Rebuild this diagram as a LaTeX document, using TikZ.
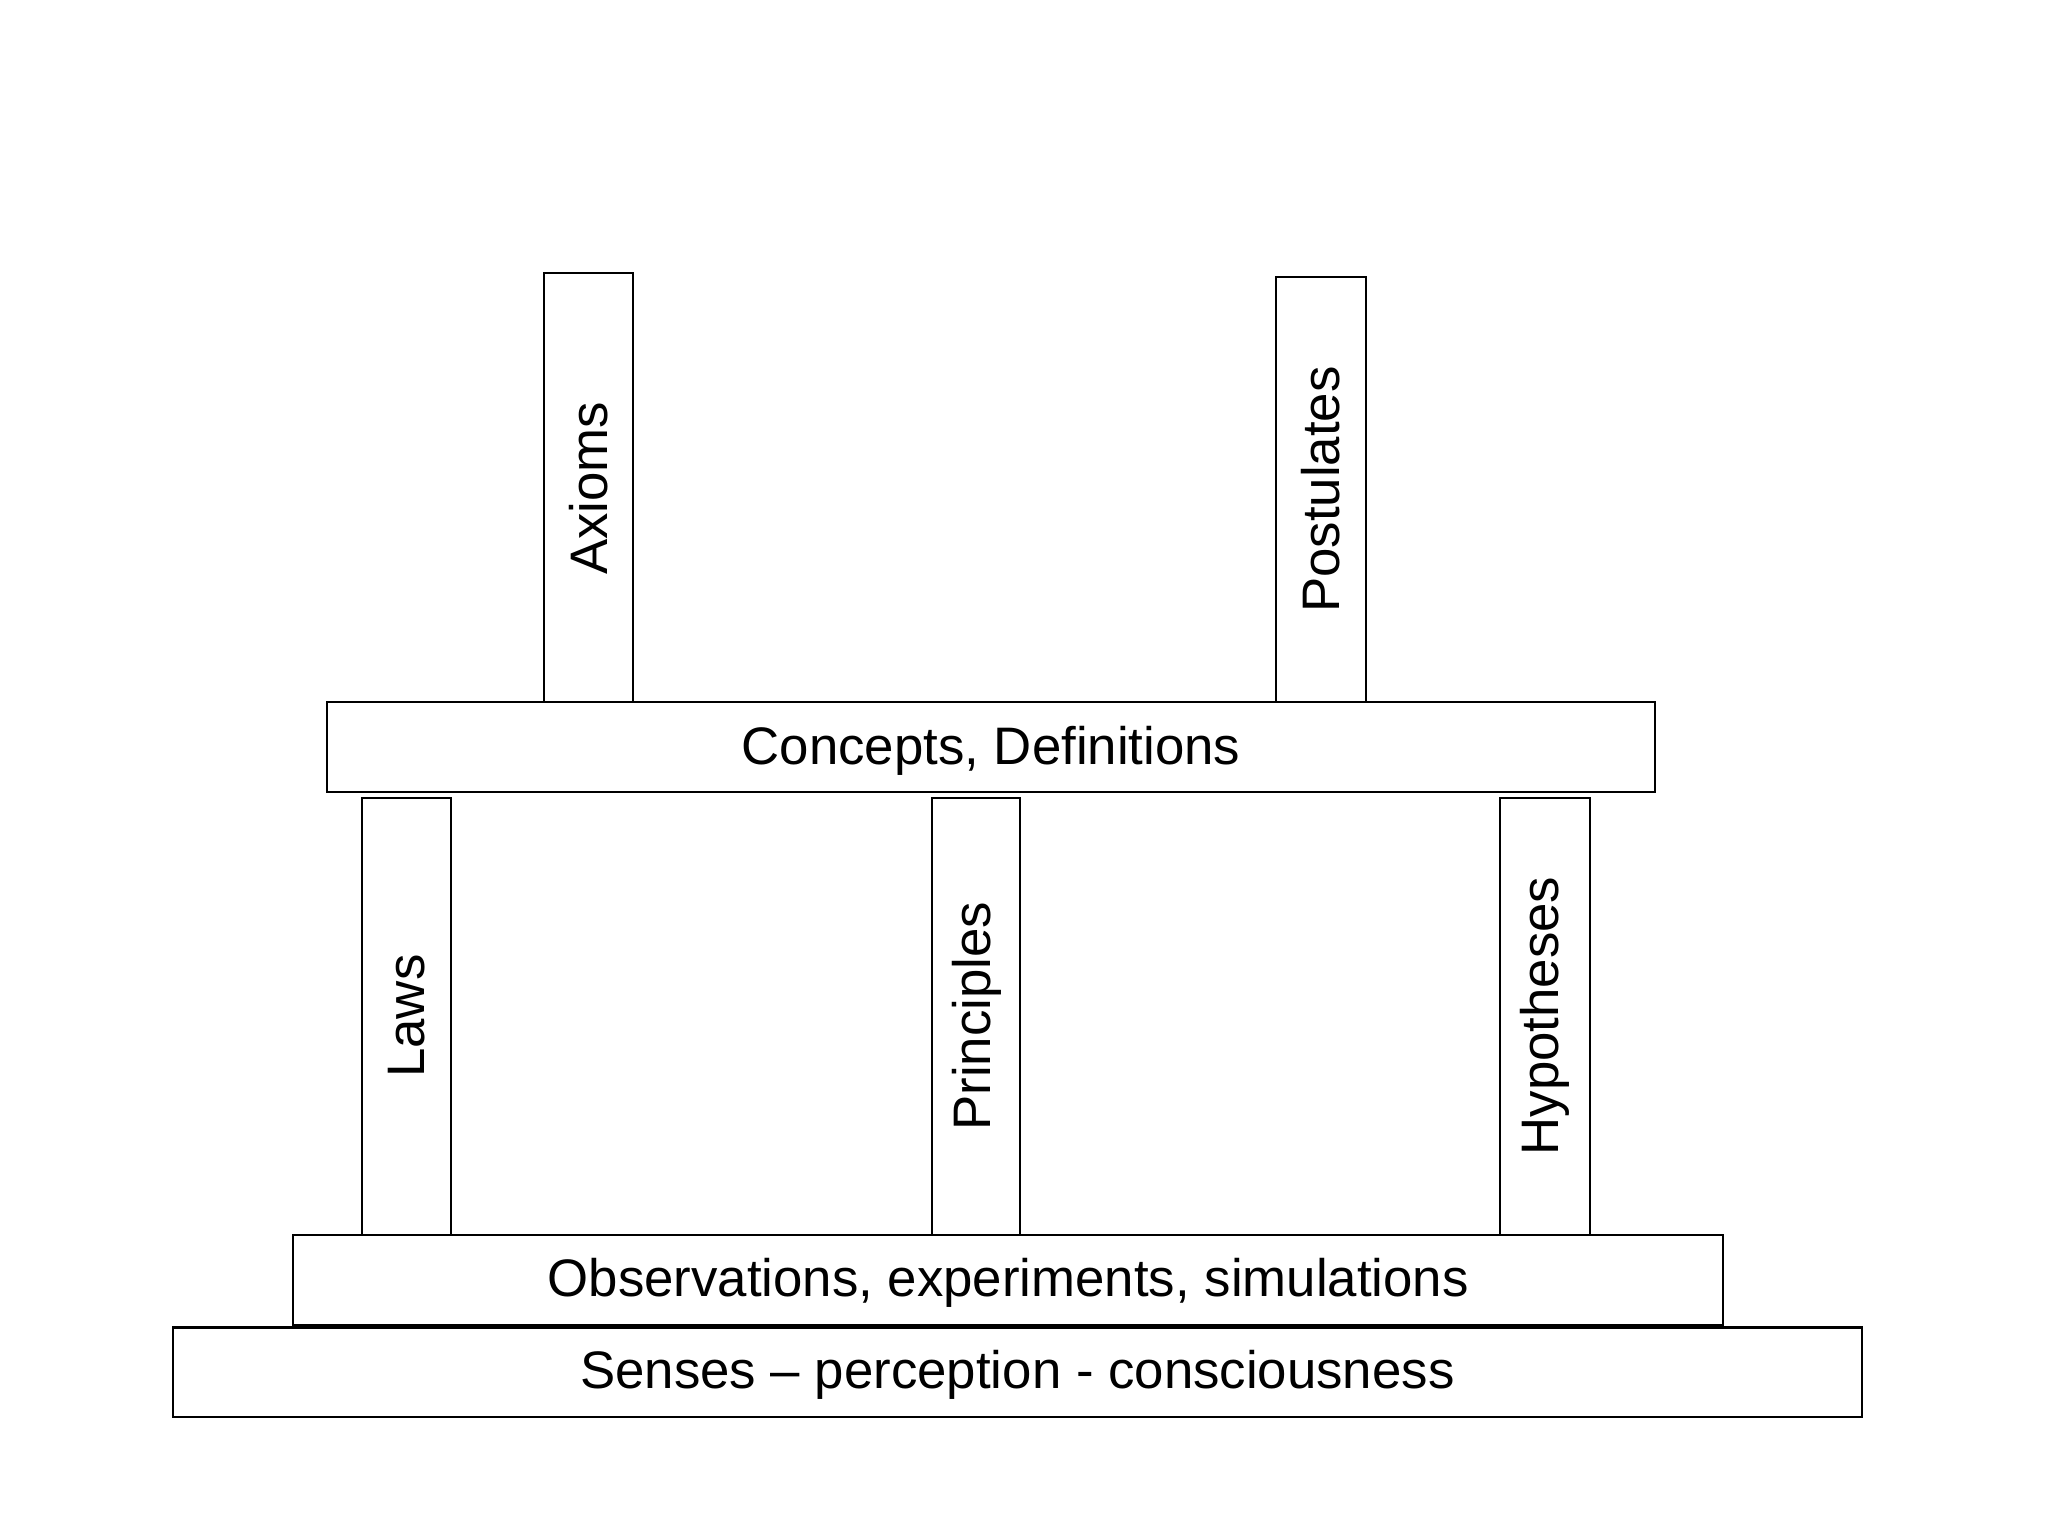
\documentclass[tikz,border=0pt]{standalone}
\usepackage{fontspec}
\setmainfont{Liberation Sans}
\begin{document}
\begin{tikzpicture}[x=0.5pt,y=-0.5pt,
  box/.style={draw=black,line width=0.8pt,fill=white},
  lbl/.style={font=\fontsize{20}{24}\selectfont}]
\useasboundingbox (0,0) rectangle (1552,1164);
\fill[white] (0,0) rectangle (1552,1164);
\newcommand{\bx}[6]{%
  \draw[box] (#2,#3) rectangle (#4,#5);
  \node[lbl,#6] (#1) at ({(#2+#4)/2},{(#3+#5)/2}) {\strut};}
\draw[box] (412,207) rectangle (480,532);
\node[lbl,rotate=90] (ax) at (446,370) {Axioms};
\draw[box] (967,210) rectangle (1035,532);
\node[lbl,rotate=90] (po) at (1001,371) {Postulates};
\draw[box] (248,532) rectangle (1254,600);
\node[lbl] (co) at (751,569) {Concepts, Definitions};
\draw[box] (274,605) rectangle (342,936);
\node[lbl,rotate=90] (la) at (308,770) {Laws};
\draw[box] (706,605) rectangle (773,936);
\node[lbl,rotate=90] (pr) at (740,770) {Principles};
\draw[box] (1137,605) rectangle (1205,936);
\node[lbl,rotate=90] (hy) at (1171,770) {Hypotheses};
\draw[box] (222,936) rectangle (1306,1004);
\node[lbl] (ob) at (764,972) {Observations, experiments, simulations};
\draw[box] (131,1006) rectangle (1411,1074);
\node[lbl] (se) at (771,1042) {Senses – perception - consciousness};
\end{tikzpicture}
\end{document}
